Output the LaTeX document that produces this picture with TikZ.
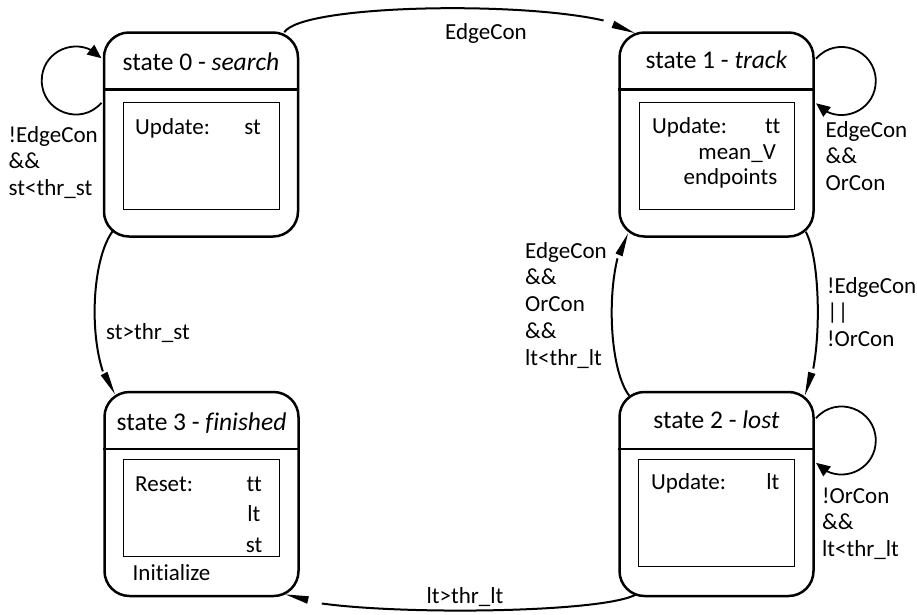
\documentclass[tikz,border=0pt]{standalone}
\usepackage{fontspec}
\setmainfont{Carlito}[Ligatures=NoCommon]
\usetikzlibrary{arrows.meta,bending,calc}
\begin{document}
\begin{tikzpicture}[x=1pt,y=-1pt,
  state/.style={draw,rectangle,rounded corners=25pt,minimum width=194pt,minimum height=204pt,line width=2.5pt,inner sep=0pt},
  inbox/.style={draw,rectangle,line width=1pt,inner sep=0pt},
  lbl/.style={font=\fontsize{23}{26.7}\selectfont,inner sep=0pt},
  hdr/.style={font=\fontsize{25.5}{30}\selectfont,inner sep=0pt,anchor=base},
  conn/.style={line width=2pt,-{Triangle[length=24pt,width=7pt]}},
  selfloop/.style={line width=1.8pt,-{Triangle[length=14pt,width=12pt]}},
  divider/.style={line width=2.5pt}
]
\useasboundingbox (0,0) rectangle (917,614);

% states
\node[state] (s0) at (201,134.5) {};
\node[state] (s1) at (716.5,134.5) {};
\node[state] (s2) at (716.5,494) {};
\node[state] (s3) at (201.5,494) {};

\foreach \s in {s0,s1,s2,s3}{
  \draw[divider] ([yshift=-58pt]\s.north west) -- ([yshift=-58pt]\s.north east);
}

\node[hdr] (h0) at ([yshift=-39pt]s0.north) {state 0 - \textit{search}};
\node[hdr] (h1) at ([yshift=-37.5pt]s1.north) {state 1 - \textit{track}};
\node[hdr] (h2) at ([yshift=-38pt]s2.north) {state 2 - \textit{lost}};
\node[hdr] (h3) at ([yshift=-39.5pt]s3.north) {state 3 - \textit{finished}};

% inner boxes
\node[inbox,minimum width=156pt,minimum height=107pt] (b0) at (201.5,155.5) {};
\node[inbox,minimum width=155pt,minimum height=107pt] (b1) at (716.5,155.5) {};
\node[inbox,minimum width=156pt,minimum height=97pt] (b3) at (201.3,508) {};
\node[inbox,minimum width=156pt,minimum height=107pt] (b2) at (716.5,513) {};

% inner texts
\node[lbl,anchor=base west] (u0) at (135,134) {Update:};
\node[lbl,anchor=base east] (v0) at (261,134) {st};

\node[lbl,anchor=base west] (u1) at (652,133.5) {Update:};
\node[lbl,anchor=base east] (v1a) at (780.5,133.5) {tt};
\node[lbl,anchor=base east] (v1b) at (776,159.5) {mean\_V};
\node[lbl,anchor=base east] (v1c) at (777.5,184.5) {endpoints};

\node[lbl,anchor=base west] (u2) at (651,489.5) {Update:};
\node[lbl,anchor=base east] (v2) at (779.5,489.5) {lt};

\node[lbl,anchor=base west] (u3) at (135,491) {Reset:};
\node[lbl,anchor=base east] (v3a) at (262,491) {tt};
\node[lbl,anchor=base east] (v3b) at (260.5,521.5) {lt};
\node[lbl,anchor=base east] (v3c) at (262.5,552.5) {st};
\node[lbl,anchor=base west] (i3) at (132.5,580) {Initialize};

% transitions between states
\draw[conn] ($(s0.north east)+(-15,1)$) .. controls (305,0) and (600,0) .. ($(s1.north west)+(17,2)$);
\draw[conn] ($(s0.south west)+(11,-8)$) .. controls (88,262) and (88,365) .. ($(s3.north west)+(12,4)$);
\draw[conn] ($(s1.south east)+(-9,-6)$) .. controls (822,262) and (822,365) .. ($(s2.north east)+(-10,5)$);
\draw[conn] ($(s2.north west)+(11,5)$) .. controls (606,365) and (606,262) .. ($(s1.south west)+(10,-5)$);
\draw[conn] ($(s2.south west)+(18,-3)$) .. controls (600,616) and (320,616) .. ($(s3.south east)+(-15,-3)$);

% self loops
\draw[selfloop,shift={(s0.west)}] (-1.3,-31.7) .. controls (-21.9,-8) and (-61,-22.6) .. (-61,-54)
   .. controls (-61,-85.4) and (-21.9,-100) .. (-1.3,-76.3);
\draw[selfloop,shift={(s1.east)}] (1.3,-75.8) .. controls (21.9,-99.5) and (61,-84.9) .. (61,-53.5)
   .. controls (61,-22.1) and (21.9,-7.5) .. (1.3,-31.2);
\draw[selfloop,shift={(s2.east)}] (1.3,-75.8) .. controls (21.9,-99.5) and (61,-84.9) .. (61,-53.5)
   .. controls (61,-22.1) and (21.9,-7.5) .. (1.3,-31.2);

% transition labels (base anchor = baseline of the last line)
\node[lbl,anchor=base] (l01) at (486,39.5) {EdgeCon};
\node[lbl,anchor=base west] (l03) at (106,339.5) {st>thr\_st};
\node[lbl,anchor=base] (l23) at (465,603) {lt>thr\_lt};
\node[lbl,anchor=base west,align=left] (l00) at (8.5,195.5) {!EdgeCon\\\&\&\\st<thr\_st};
\node[lbl,anchor=base west,align=left] (l11) at (825.5,190.5) {EdgeCon\\\&\&\\OrCon};
\node[lbl,anchor=base west,align=left] (l12) at (827,346.5) {!EdgeCon\\||\\!OrCon};
\node[lbl,anchor=base west,align=left] (l21) at (525,365) {EdgeCon\\\&\&\\OrCon\\\&\&\\lt<thr\_lt};
\node[lbl,anchor=base west,align=left] (l22) at (822,556.5) {!OrCon\\\&\&\\lt<thr\_lt};
\end{tikzpicture}
\end{document}
